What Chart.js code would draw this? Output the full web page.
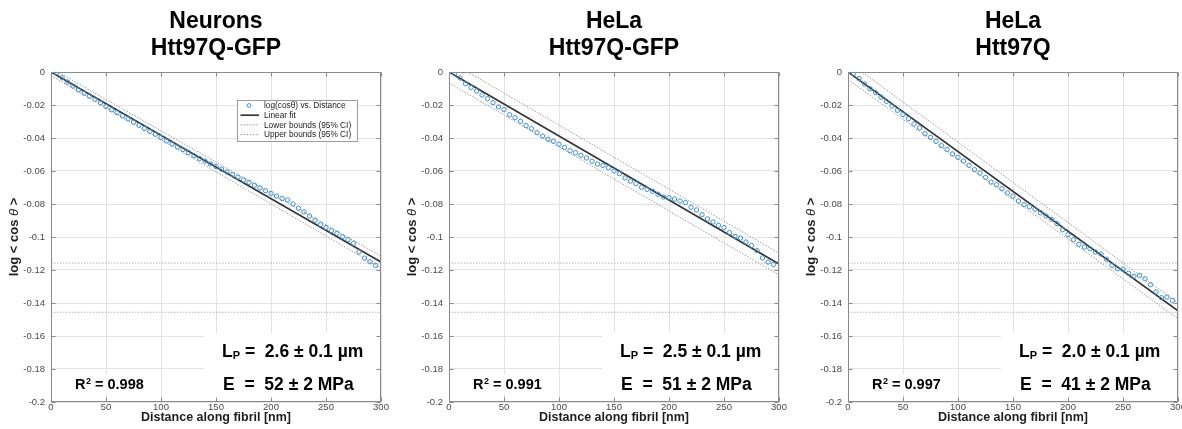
<!DOCTYPE html>
<html>
<head>
<meta charset="utf-8">
<title>Persistence length fits</title>
<script src="https://cdn.jsdelivr.net/npm/chart.js@4.4.1/dist/chart.umd.min.js"></script>
<style>
  html, body { margin: 0; padding: 0; background: #fff; width: 1182px; height: 429px; overflow: hidden; }
  .panel { position: absolute; top: 0; width: 398px; height: 429px; }
</style>
</head>
<body>
<div class="panel" style="left:0px"><canvas id="neuronsGfp" width="398" height="429"></canvas></div>
<div class="panel" style="left:398px"><canvas id="helaGfp" width="398" height="429"></canvas></div>
<div class="panel" style="left:797px"><canvas id="hela" width="398" height="429"></canvas></div>
<script>
// ---- data -------------------------------------------------------------
const distanceNm = [0, 5, 10, 15, 20, 25, 30, 35, 40, 45, 50, 55, 60, 65, 70, 75, 80, 85, 90, 95,
  100, 105, 110, 115, 120, 125, 130, 135, 140, 145, 150, 155, 160, 165, 170, 175, 180, 185, 190, 195,
  200, 205, 210, 215, 220, 225, 230, 235, 240, 245, 250, 255, 260, 265, 270, 275, 280, 285, 290, 295];

// log <cos θ> along the fibril
const neuronsGfpLogCos = [0, -0.0005, -0.0035, -0.0061, -0.0085, -0.0108, -0.0128, -0.0146, -0.0165, -0.0187,
  -0.0209, -0.0229, -0.0246, -0.0266, -0.0284, -0.0304, -0.0323, -0.0342, -0.0360, -0.0377,
  -0.0397, -0.0417, -0.0436, -0.0453, -0.0470, -0.0488, -0.0507, -0.0524, -0.0540, -0.0557,
  -0.0573, -0.0589, -0.0606, -0.0622, -0.0637, -0.0654, -0.0669, -0.0686, -0.0702, -0.0719,
  -0.0736, -0.0752, -0.0766, -0.0775, -0.0800, -0.0826, -0.0848, -0.0872, -0.0898, -0.0925,
  -0.0943, -0.0961, -0.0978, -0.0998, -0.1016, -0.1038, -0.1090, -0.1128, -0.1150, -0.1172];

const helaGfpLogCos = [0, -0.0008, -0.0036, -0.0071, -0.0093, -0.0115, -0.0139, -0.0162, -0.0186, -0.0212,
  -0.0228, -0.0259, -0.0277, -0.0299, -0.0325, -0.0343, -0.0368, -0.0388, -0.0408, -0.0420,
  -0.0438, -0.0457, -0.0477, -0.0489, -0.0505, -0.0521, -0.0541, -0.0558, -0.0566, -0.0580,
  -0.0600, -0.0616, -0.0642, -0.0661, -0.0677, -0.0699, -0.0711, -0.0723, -0.0741, -0.0758,
  -0.0762, -0.0770, -0.0782, -0.0792, -0.0820, -0.0836, -0.0865, -0.0891, -0.0909, -0.0929,
  -0.0943, -0.0974, -0.0996, -0.1006, -0.1030, -0.1051, -0.1083, -0.1127, -0.1152, -0.1166];

const helaLogCos = [0, -0.0008, -0.0040, -0.0073, -0.0101, -0.0125, -0.0152, -0.0178, -0.0206, -0.0232,
  -0.0257, -0.0283, -0.0315, -0.0339, -0.0374, -0.0396, -0.0420, -0.0446, -0.0469, -0.0497,
  -0.0517, -0.0539, -0.0566, -0.0592, -0.0612, -0.0638, -0.0667, -0.0683, -0.0707, -0.0733,
  -0.0752, -0.0782, -0.0804, -0.0816, -0.0832, -0.0853, -0.0873, -0.0893, -0.0919, -0.0956,
  -0.0986, -0.1016, -0.1044, -0.1061, -0.1071, -0.1091, -0.1103, -0.1135, -0.1172, -0.1192,
  -0.1196, -0.1220, -0.1238, -0.1232, -0.1253, -0.1289, -0.1333, -0.1368, -0.1364, -0.1384];

// linear fits and 95% confidence bounds, evaluated at the ends of the range
const fitDistanceNm = [0, 300];
const neuronsGfpFit = [0, -0.1152];
const neuronsGfpLower = [-0.0022, -0.1188];
const neuronsGfpUpper = [0.0024, -0.1116];
const helaGfpFit = [0, -0.1164];
const helaGfpLower = [-0.0066, -0.1230];
const helaGfpUpper = [0.0066, -0.1098];
const helaFit = [0, -0.1448];
const helaLower = [-0.0045, -0.1495];
const helaUpper = [0.0062, -0.1400];

// dotted reference levels across every panel
const guideLevels = [-0.1158, -0.1456];

const xTickLabels = ['0', '50', '100', '150', '200', '250', '300'];
const yTickLabels = ['-0.2', '-0.18', '-0.16', '-0.14', '-0.12', '-0.1', '-0.08', '-0.06', '-0.04', '-0.02', '0'];

// ---- styling ----------------------------------------------------------
const FONT = "'Liberation Sans', Arial, Helvetica, sans-serif";
const MARKER_BLUE = '#3a92d6';
const FIT_GREY = '#363636';
const BOUND_GREY = '#9a9a9a';
const AXIS_GREY = '#8a8a8a';
const GRID_GREY = '#e3e3e3';

// Titles, y-axis label, result box, inner ticks and the in-plot legend
const panelDecor = {
  id: 'panelDecor',
  beforeDatasetsDraw(chart, args, o) {
    const { ctx, chartArea: a } = chart;
    ctx.save();
    ctx.fillStyle = '#fff';
    // blank panel behind the fit results
    ctx.fillRect(a.left + o.resultLeft, a.top + o.resultTop,
      a.right - a.left - o.resultLeft, a.bottom - a.top - o.resultTop);
    // small blank behind R²
    ctx.fillRect(a.left + 20, a.top + 302, 76, 20);
    ctx.restore();
  },
  afterDatasetsDraw(chart, args, o) {
    const { ctx, chartArea: a, scales } = chart;
    ctx.save();
    // axes box
    ctx.strokeStyle = AXIS_GREY;
    ctx.lineWidth = 1;
    const L = Math.round(a.left) + 0.5, R = Math.round(a.right) - 0.5;
    const T = Math.round(a.top) + 0.5, B = Math.round(a.bottom) - 0.5;
    ctx.strokeRect(L, T, R - L, B - T);
    // inward tick marks on all four sides
    ctx.beginPath();
    scales.x.ticks.forEach(t => {
      const px = Math.round(scales.x.getPixelForValue(t.value)) + 0.5;
      ctx.moveTo(px, B); ctx.lineTo(px, B - 4);
      ctx.moveTo(px, T); ctx.lineTo(px, T + 4);
    });
    scales.y.ticks.forEach(t => {
      const py = Math.round(scales.y.getPixelForValue(t.value)) + 0.5;
      ctx.moveTo(L, py); ctx.lineTo(L + 4, py);
      ctx.moveTo(R, py); ctx.lineTo(R - 4, py);
    });
    ctx.stroke();

    if (o.legend) drawLegend(chart, a);
    ctx.restore();
  },
  afterDraw(chart, args, o) {
    const { ctx, chartArea: a } = chart;
    const cx = (a.left + a.right) / 2;
    ctx.save();
    // panel title
    ctx.fillStyle = '#000';
    ctx.textAlign = 'center';
    ctx.textBaseline = 'middle';
    ctx.font = `bold 23px ${FONT}`;
    o.title.forEach((line, i) => ctx.fillText(line, cx, 21.5 + i * 27));

    // y-axis label: log < cos θ >
    ctx.save();
    ctx.translate(a.left - 36.5, (a.top + a.bottom) / 2);
    ctx.rotate(-Math.PI / 2);
    const parts = [
      { t: 'log < cos ', f: `bold 13px ${FONT}` },
      { t: 'θ', f: `italic 13px ${FONT}` },
      { t: ' >', f: `bold 13px ${FONT}` }
    ];
    let total = 0;
    parts.forEach(p => { ctx.font = p.f; p.w = ctx.measureText(p.t).width; total += p.w; });
    let px = -total / 2;
    ctx.textAlign = 'left';
    ctx.fillStyle = '#1e1e1e';
    parts.forEach(p => { ctx.font = p.f; ctx.fillText(p.t, px, 0); px += p.w; });
    ctx.restore();

    // fit results
    ctx.fillStyle = '#000';
    ctx.textAlign = 'left';
    ctx.textBaseline = 'alphabetic';
    let x = a.left + 171, y = a.top + 285;
    ctx.font = `bold 17.5px ${FONT}`;
    ctx.fillText('L', x, y); x += ctx.measureText('L').width;
    ctx.font = `bold 11px ${FONT}`;
    ctx.fillText('P', x, y + 2); x += ctx.measureText('P').width;
    ctx.font = `bold 17.5px ${FONT}`;
    ctx.fillText(' =  ' + o.lp, x, y);
    ctx.fillText('E  =  ' + o.modulus, a.left + 172, a.top + 317.6);

    x = a.left + 24; y = a.top + 317.3;
    ctx.font = `bold 14.5px ${FONT}`;
    ctx.fillText('R', x, y); x += ctx.measureText('R').width;
    ctx.font = `bold 9px ${FONT}`;
    ctx.fillText('2', x + 0.5, y - 5.5); x += ctx.measureText('2').width + 0.5;
    ctx.font = `bold 14.5px ${FONT}`;
    ctx.fillText(' = ' + o.r2, x, y);
    ctx.restore();
  }
};

function drawLegend(chart, a) {
  const ctx = chart.ctx;
  const bx = Math.round(a.left + 186) + 0.5, by = Math.round(a.top + 28) + 0.5;
  const bw = 120, bh = 41;
  ctx.fillStyle = '#fff';
  ctx.fillRect(bx, by, bw, bh);
  ctx.strokeStyle = '#9c9c9c';
  ctx.lineWidth = 1;
  ctx.strokeRect(bx, by, bw, bh);
  ctx.font = `8.3px ${FONT}`;
  ctx.textAlign = 'left';
  ctx.textBaseline = 'middle';
  const entries = chart.data.datasets.filter(d => d.label);
  entries.forEach((d, i) => {
    const ry = by + 5 + i * 9.7;
    ctx.save();
    if (!d.showLine) {
      ctx.strokeStyle = d.borderColor;
      ctx.lineWidth = 1;
      ctx.beginPath();
      ctx.arc(bx + 11.5, ry, 1.9, 0, Math.PI * 2);
      ctx.stroke();
    } else {
      ctx.strokeStyle = d.borderColor;
      ctx.lineWidth = d.borderWidth;
      ctx.setLineDash(d.borderDash || []);
      ctx.beginPath();
      ctx.moveTo(bx + 3, ry); ctx.lineTo(bx + 21.5, ry);
      ctx.stroke();
    }
    ctx.restore();
    ctx.fillStyle = '#222';
    ctx.fillText(d.label, bx + 26.5, ry + 0.5);
  });
}

function pointsOf(xs, ys) {
  return xs.map((x, i) => ({ x: x, y: ys[i] }));
}

function makePanel(id, values, fit, lower, upper, deco) {
  const datasets = [
    {
      label: 'log(cosθ) vs. Distance',
      data: pointsOf(distanceNm, values),
      showLine: false,
      pointStyle: 'circle',
      pointRadius: 2.2,
      pointBorderWidth: 1,
      borderColor: MARKER_BLUE,
      backgroundColor: 'rgba(0,0,0,0)'
    },
    {
      label: 'Linear fit',
      data: pointsOf(fitDistanceNm, fit),
      showLine: true,
      borderColor: FIT_GREY,
      borderWidth: 1.7,
      pointRadius: 0
    },
    {
      label: 'Lower bounds (95% CI)',
      data: pointsOf(fitDistanceNm, lower),
      showLine: true,
      borderColor: BOUND_GREY,
      borderWidth: 1,
      borderDash: [1.5, 1.5],
      pointRadius: 0
    },
    {
      label: 'Upper bounds (95% CI)',
      data: pointsOf(fitDistanceNm, upper),
      showLine: true,
      borderColor: BOUND_GREY,
      borderWidth: 1,
      borderDash: [1.5, 1.5],
      pointRadius: 0
    }
  ];
  guideLevels.forEach(level => {
    datasets.push({
      label: '',
      data: pointsOf(fitDistanceNm, fitDistanceNm.map(() => level)),
      showLine: true,
      borderColor: '#b4b4b4',
      borderWidth: 1,
      borderDash: [1.5, 1.5],
      pointRadius: 0
    });
  });

  return new Chart(document.getElementById(id), {
    type: 'scatter',
    data: { datasets },
    options: {
      responsive: false,
      animation: false,
      events: [],
      layout: { padding: { top: 72, left: 0, right: 17, bottom: 0 } },
      plugins: {
        legend: { display: false },
        tooltip: { enabled: false },
        panelDecor: deco
      },
      scales: {
        x: {
          type: 'linear',
          min: 0,
          max: 300,
          afterFit: s => { s.height = 27; },
          ticks: {
            stepSize: 50,
            padding: 0,
            maxRotation: 0,
            color: '#4a4a4a',
            font: { family: FONT, size: 9.5 },
            callback: (v, i) => xTickLabels[i]
          },
          grid: { color: GRID_GREY, drawTicks: false },
          border: { display: false },
          title: {
            display: true,
            text: 'Distance along fibril [nm]',
            color: '#1e1e1e',
            font: { family: FONT, size: 12.5, weight: 'bold', lineHeight: 1.2 },
            padding: { top: 0, bottom: 3.5 }
          }
        },
        y: {
          type: 'linear',
          min: -0.2,
          max: 0,
          afterFit: s => { s.width = 51; },
          ticks: {
            stepSize: 0.02,
            padding: 6,
            color: '#4a4a4a',
            font: { family: FONT, size: 9.5 },
            callback: (v, i) => yTickLabels[i]
          },
          grid: { color: GRID_GREY, drawTicks: false },
          border: { display: false }
        }
      }
    },
    plugins: [panelDecor]
  });
}

const resultBox = { resultLeft: 153, resultTop: 261 };

makePanel('neuronsGfp', neuronsGfpLogCos, neuronsGfpFit, neuronsGfpLower, neuronsGfpUpper,
  Object.assign({ title: ['Neurons', 'Htt97Q-GFP'], lp: '2.6 ± 0.1 µm', modulus: '52 ± 2 MPa', r2: '0.998', legend: true }, resultBox));
makePanel('helaGfp', helaGfpLogCos, helaGfpFit, helaGfpLower, helaGfpUpper,
  Object.assign({ title: ['HeLa', 'Htt97Q-GFP'], lp: '2.5 ± 0.1 µm', modulus: '51 ± 2 MPa', r2: '0.991', legend: false }, resultBox));
makePanel('hela', helaLogCos, helaFit, helaLower, helaUpper,
  Object.assign({ title: ['HeLa', 'Htt97Q'], lp: '2.0 ± 0.1 µm', modulus: '41 ± 2 MPa', r2: '0.997', legend: false }, resultBox));
</script>
</body>
</html>
